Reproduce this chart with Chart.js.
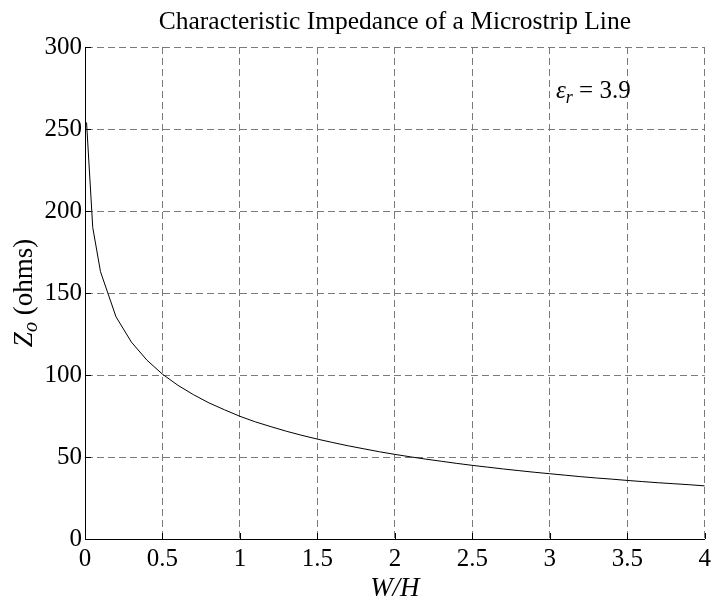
<!DOCTYPE html>
<html>
<head>
<meta charset="utf-8">
<script src="https://cdn.jsdelivr.net/npm/chart.js@4.4.0/dist/chart.umd.min.js"></script>
<style>
  html, body { margin: 0; padding: 0; background: #fff; }
  #wrap { width: 716px; height: 600px; }
</style>
</head>
<body>
<div id="wrap"><canvas id="c" width="716" height="600"></canvas></div>
<script>
// W/H values and read impedance values (ohms)
const widthRatio = [0.01, 0.05, 0.1, 0.2, 0.3, 0.4, 0.5, 0.6, 0.7, 0.8, 0.9, 1.0,
  1.1, 1.2, 1.3, 1.4, 1.5, 1.6, 1.7, 1.8, 1.9, 2.0, 2.1, 2.2, 2.3, 2.4, 2.5,
  2.6, 2.7, 2.8, 2.9, 3.0, 3.1, 3.2, 3.3, 3.4, 3.5, 3.6, 3.7, 3.8, 3.9, 4.0];
const impedance = [254, 190, 163, 135.5, 120, 109, 100.5, 93.7, 88, 83, 78.8, 74.8,
  71.4, 68.5, 65.7, 63.2, 60.9, 58.8, 56.8, 55, 53.2, 51.6, 50.1, 48.7, 47.4, 46.1, 44.9,
  43.8, 42.7, 41.7, 40.7, 39.8, 38.9, 38, 37.2, 36.5, 35.7, 35, 34.3, 33.7, 33.1, 32.4];
const xTicks = [0, 0.5, 1, 1.5, 2, 2.5, 3, 3.5, 4];
const yTicks = [0, 50, 100, 150, 200, 250, 300];
const titleText = 'Characteristic Impedance of a Microstrip Line';
const annotation = { x: 3.04, y: 269, symbol: 'ε', sub: 'r', rest: ' = 3.9' };

const FONT = '"Liberation Serif", "Times New Roman", serif';
const FS = 25;   // tick labels
const LS = 27;   // axis labels
const points = widthRatio.map((w, i) => ({ x: w, y: impedance[i] }));

const extras = {
  id: 'extras',
  afterDraw(chart) {
    const ctx = chart.ctx;
    const xs = chart.scales.x, ys = chart.scales.y;
    const a = chart.chartArea;
    ctx.save();
    // inward tick marks
    ctx.strokeStyle = '#000';
    ctx.lineWidth = 1;
    ctx.beginPath();
    yTicks.forEach(v => {
      const py = Math.round(ys.getPixelForValue(v)) + 0.5;
      ctx.moveTo(a.left, py); ctx.lineTo(a.left + 6, py);
    });
    xTicks.forEach(v => {
      const px = Math.round(xs.getPixelForValue(v)) + 0.5;
      ctx.moveTo(px, a.bottom); ctx.lineTo(px, a.bottom - 6);
    });
    ctx.stroke();
    // y axis title with subscript
    const lab = LS + 'px ' + FONT, labI = 'italic ' + LS + 'px ' + FONT, labSub = 'italic 20px ' + FONT;
    ctx.fillStyle = '#000';
    ctx.translate(32, (a.top + a.bottom) / 2);
    ctx.rotate(-Math.PI / 2);
    ctx.textBaseline = 'alphabetic';
    ctx.font = labI; const wZ = ctx.measureText('Z').width;
    ctx.font = labSub; const wo = ctx.measureText('o').width;
    ctx.font = lab; const wr = ctx.measureText(' (ohms)').width;
    const x0 = -(wZ + wo + wr) / 2;
    ctx.font = labI; ctx.fillText('Z', x0, 0);
    ctx.font = labSub; ctx.fillText('o', x0 + wZ, 5);
    ctx.font = lab; ctx.fillText(' (ohms)', x0 + wZ + wo, 0);
    ctx.restore();
    // annotation
    const big = FS + 'px ' + FONT, bigI = 'italic ' + FS + 'px ' + FONT, smallI = 'italic 18px ' + FONT;
    ctx.save();
    ctx.fillStyle = '#000';
    ctx.textBaseline = 'alphabetic';
    const ax = xs.getPixelForValue(annotation.x), ay = ys.getPixelForValue(annotation.y);
    ctx.font = bigI; ctx.fillText(annotation.symbol, ax, ay);
    const we = ctx.measureText(annotation.symbol).width;
    ctx.font = smallI; ctx.fillText(annotation.sub, ax + we, ay + 5);
    const ws = ctx.measureText(annotation.sub).width;
    ctx.font = big; ctx.fillText(annotation.rest, ax + we + ws, ay);
    ctx.restore();
  }
};

new Chart(document.getElementById('c'), {
  type: 'line',
  data: {
    datasets: [{
      data: points,
      borderColor: '#000',
      borderWidth: 1,
      pointRadius: 0,
      tension: 0,
      fill: false
    }]
  },
  plugins: [extras],
  options: {
    responsive: false,
    animation: false,
    devicePixelRatio: 1,
    layout: { padding: { top: 0, right: 8, left: 0, bottom: 0 } },
    plugins: {
      legend: { display: false },
      tooltip: { enabled: false },
      title: {
        display: true,
        fullSize: false,
        text: titleText,
        color: '#000',
        font: { family: FONT, size: 25.5, weight: 'normal', lineHeight: 1.2 },
        padding: { top: 7, bottom: 9.4 }
      }
    },
    scales: {
      x: {
        type: 'linear',
        min: 0, max: 4,
        afterBuildTicks: s => { s.ticks = xTicks.map(v => ({ value: v })); },
        afterFit: s => { s.height = 61; },
        ticks: { color: '#000', font: { family: FONT, size: FS }, padding: 5, maxRotation: 0,
                 callback: v => String(v) },
        grid: { color: '#7a7a7a', lineWidth: 1, drawTicks: false },
        border: { display: true, color: '#000', width: 1, dash: [7, 4] },
        title: { display: true, text: 'W/H', color: '#000',
                 font: { family: FONT, size: LS, style: 'italic', lineHeight: 1.0 },
                 padding: { top: 0, bottom: -2 } }
      },
      y: {
        type: 'linear',
        min: 0, max: 300,
        afterBuildTicks: s => { s.ticks = yTicks.map(v => ({ value: v })); },
        afterFit: s => { s.width = 85; },
        ticks: { color: '#000', font: { family: FONT, size: FS }, padding: 3,
                 callback: v => String(v) },
        grid: { color: '#7a7a7a', lineWidth: 1, drawTicks: false },
        border: { display: true, color: '#000', width: 1, dash: [7, 4] }
      }
    }
  }
});
</script>
</body>
</html>
